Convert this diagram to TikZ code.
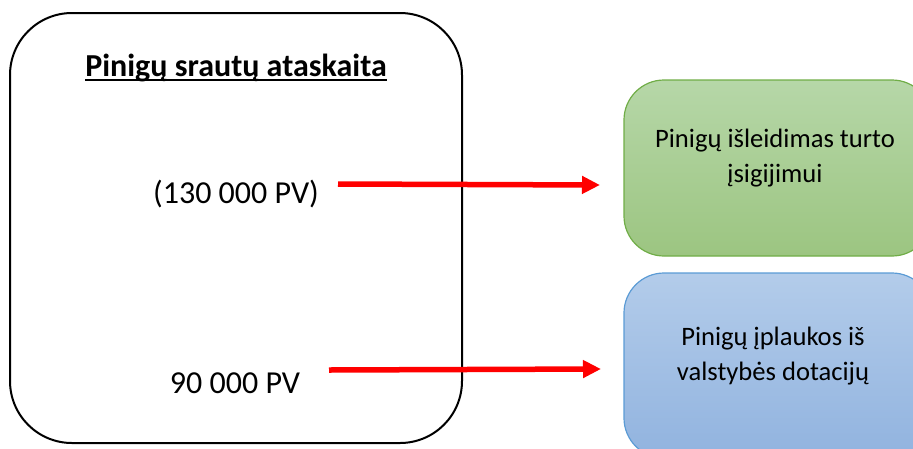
\documentclass[tikz,border=0pt]{standalone}
\usepackage{fontspec}
\setmainfont{Carlito}
\usetikzlibrary{arrows.meta}
\definecolor{gtop}{HTML}{B6D7A8}
\definecolor{gbot}{HTML}{9CC581}
\definecolor{gedge}{HTML}{70AD47}
\definecolor{btop}{HTML}{B3CCEA}
\definecolor{bbot}{HTML}{91B3DF}
\definecolor{bedge}{HTML}{5B9BD5}
\newcommand\myul[1]{\setbox0\hbox{#1}\rlap{\rule[-4.5pt]{\wd0}{2pt}}\box0}
\tikzset{
  bigbox/.style={draw=black, line width=2pt, rounded corners=62pt},
  greenbox/.style={draw=gedge, line width=1.2pt, rounded corners=40pt, top color=gtop, bottom color=gbot},
  bluebox/.style={draw=bedge, line width=1.2pt, rounded corners=40pt, top color=btop, bottom color=bbot},
  bigtxt/.style={inner sep=0pt, font=\fontsize{32}{38}\selectfont},
  boxtxt/.style={inner sep=0pt, align=center, font=\fontsize{26.6}{35}\selectfont},
  redarrow/.style={draw={rgb,255:red,255;green,0;blue,0}, line width=5.5pt, -{Triangle[length=18pt,width=17pt]}}
}
\begin{document}
\begin{tikzpicture}[x=1pt,y=-1pt]
\useasboundingbox (0,0) rectangle (913,448);
\clip (0,0) rectangle (913,448);
% main box
\path[bigbox] (10,13) rectangle (462,443);
\node[bigtxt, anchor=base] (title) at (236,76) {\bfseries\myul{Pinigų srautų ataskaita}};
\node[bigtxt, anchor=base] (v1) at (236,203) {(130 000 PV)};
\node[bigtxt, anchor=base] (v2) at (235,393) {90 000 PV};
% right boxes
\path[greenbox] (624,80) rectangle (932,256);
\node[boxtxt] (gtext) at (775,158) {Pinigų išleidimas turto\\įsigijimui};
\path[bluebox] (624,273) rectangle (932,458);
\node[boxtxt] (btext) at (773,356) {Pinigų įplaukos iš\\valstybės dotacijų};
% arrows
\coordinate (a1s) at (338,184);
\coordinate (a1e) at (600,185);
\coordinate (a2s) at (329,370);
\coordinate (a2e) at (601,369);
\draw[redarrow] (a1s) -- (a1e);
\draw[redarrow] (a2s) -- (a2e);
\end{tikzpicture}
\end{document}
